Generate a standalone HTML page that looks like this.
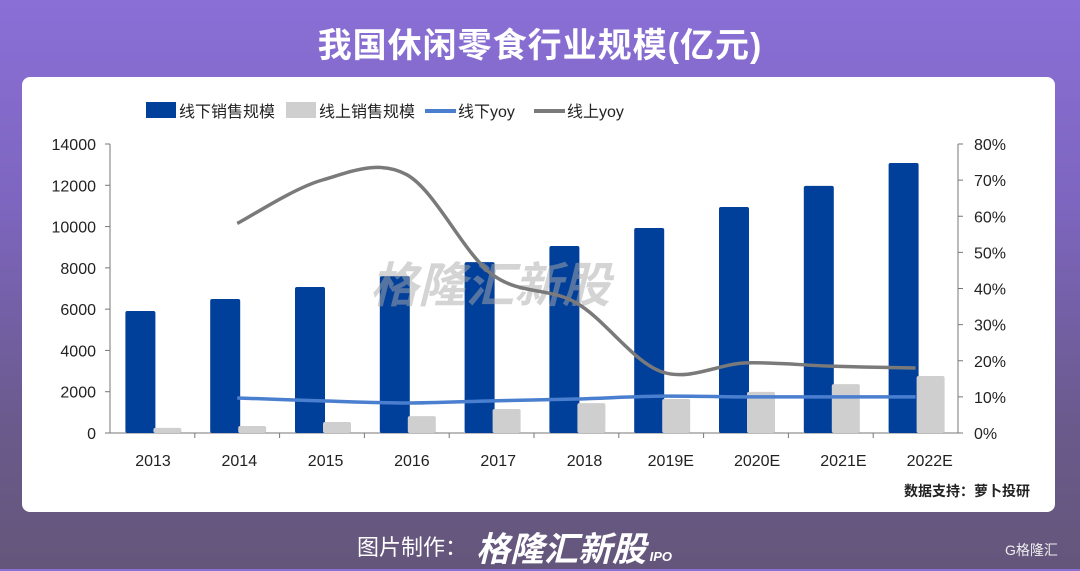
<!DOCTYPE html>
<html><head><meta charset="utf-8"><style>
body{margin:0;width:1080px;height:569px;overflow:hidden;font-family:"Liberation Sans","Noto Sans CJK SC",sans-serif;background:linear-gradient(180deg,#8a6fd6 0%,#7d66c0 35%,#6a5a8c 75%,#64567a 100%);position:relative}
.title{position:absolute;top:18px;left:0;width:1080px;text-align:center;color:#fff;font-size:34px;font-weight:bold;letter-spacing:1px}
.card{position:absolute;left:22px;top:77px;width:1033px;height:435px;background:#fff;border-radius:8px}
.foot{position:absolute;top:530px;left:357px;color:#fff;font-size:22px}
.brand{position:absolute;top:522px;left:476px;color:#fff;font-size:34px;font-weight:bold;font-style:italic}
</style></head><body>
<div class="title">我国休闲零食行业规模(亿元)</div>
<div class="card"></div>
<svg id="c" width="1080" height="569" style="position:absolute;left:0;top:0"></svg>
<div class="foot">图片制作：</div>
<div class="brand">格隆汇新股<span style="font-size:13px;color:#fff"> IPO</span></div>
<div style="position:absolute;left:1005px;top:540px;color:#eee;font-size:14px">G格隆汇</div>
<script>
const categories=["2013","2014","2015","2016","2017","2018","2019E","2020E","2021E","2022E"];
const offline=[5910,6490,7070,7600,8280,9060,9930,10950,11970,13080];
const online=[250,340,530,820,1160,1450,1650,1990,2370,2760];
const offlineYoy=[null,9.7,8.9,8.3,8.9,9.4,10.2,10,10,10];
const onlineYoy=[null,58,70,71.5,44,36,17,19.4,18.5,18];
const leftTicks=[0,2000,4000,6000,8000,10000,12000,14000];
const rightTicks=[0,10,20,30,40,50,60,70,80];
const NS="http://www.w3.org/2000/svg",svg=document.getElementById('c');
const X0=110,X1=958,Y0=433,Y1=144;
const band=(X1-X0)/categories.length;
const cx=i=>X0+band*(i+0.5);
const lx=i=>153+86.3*i;
const yL=v=>Y0-(v/14000)*(Y0-Y1);
const yR=v=>Y0-(v/80)*(Y0-Y1);
function el(t,a,p){const e=document.createElementNS(NS,t);for(const k in a)e.setAttribute(k,a[k]);(p||svg).appendChild(e);return e;}
let a=el('line',{x1:X0,y1:Y1,x2:X0,y2:Y0,stroke:'#777','stroke-width':1});

a=el('line',{x1:X1,y1:Y1,x2:X1,y2:Y0,stroke:'#777','stroke-width':1});

a=el('line',{x1:X0,y1:Y0,x2:X1,y2:Y0,stroke:'#777','stroke-width':1});

leftTicks.forEach(v=>{el('line',{x1:X0-5,y1:yL(v),x2:X0,y2:yL(v),stroke:'#777'});
 const t=el('text',{x:X0-14,y:yL(v)+6,'text-anchor':'end','font-size':16,fill:'#222'});t.textContent=v;
 });
rightTicks.forEach(v=>{el('line',{x1:X1,y1:yR(v),x2:X1+5,y2:yR(v),stroke:'#777'});
 const t=el('text',{x:X1+16,y:yR(v)+6,'font-size':16,fill:'#222'});t.textContent=v+'%';
 });
for(let i=1;i<categories.length;i++)el('line',{x1:X0+band*i,y1:Y0,x2:X0+band*i,y2:Y0+5,stroke:'#777'});
categories.forEach((c,i)=>{const t=el('text',{x:lx(i),y:466,'text-anchor':'middle','font-size':16,fill:'#222'});t.textContent=c;
 });
categories.forEach((c,i)=>{
 let b=el('rect',{x:cx(i)-27,y:yL(offline[i]),width:30,height:Y0-yL(offline[i]),fill:'#003f9a',rx:2});
 
 b=el('rect',{x:cx(i)+1,y:yL(online[i]),width:28,height:Y0-yL(online[i]),fill:'#cfcfcf',rx:2});
 
});
let w=el('text',{x:370,y:302,'font-size':48,'font-weight':'bold','font-style':'italic',fill:'#aaa','fill-opacity':0.5});
w.textContent='格隆汇新股';
function smooth(vals){const p=[];vals.forEach((v,i)=>{if(v!==null)p.push([cx(i),yR(v)]);});
 let d='M'+p[0][0]+','+p[0][1];
 for(let i=0;i<p.length-1;i++){const p0=p[i-1]||p[i],p1=p[i],p2=p[i+1],p3=p[i+2]||p2;
  d+=' C'+(p1[0]+(p2[0]-p0[0])/6)+','+(p1[1]+(p2[1]-p0[1])/6)+' '+(p2[0]-(p3[0]-p1[0])/6)+','+(p2[1]-(p3[1]-p1[1])/6)+' '+p2[0]+','+p2[1];}
 return d;}
let l=el('path',{d:smooth(offlineYoy),fill:'none',stroke:'#4a7fcf','stroke-width':3.5});

l=el('path',{d:smooth(onlineYoy),fill:'none',stroke:'#7a7a7a','stroke-width':3.5});

const leg=[['rect','#003f9a','线下销售规模',146],['rect','#cfcfcf','线上销售规模',286],['line','#4a7fcf','线下yoy',425],['line','#7a7a7a','线上yoy',534]];
leg.forEach(g=>{const grp=el('g',{});
 
 if(g[0]=='rect')el('rect',{x:g[3],y:102,width:30,height:16,fill:g[1]},grp);
 else el('line',{x1:g[3],y1:111,x2:g[3]+31,y2:111,stroke:g[1],'stroke-width':4},grp);
 const t=el('text',{x:g[3]+33,y:117,'font-size':16,fill:'#222'},grp);t.textContent=g[2];});
let s=el('text',{x:1030,y:496,'text-anchor':'end','font-size':14,'font-weight':'bold',fill:'#222'});
s.textContent='数据支持：萝卜投研';
</script>
</body></html>
